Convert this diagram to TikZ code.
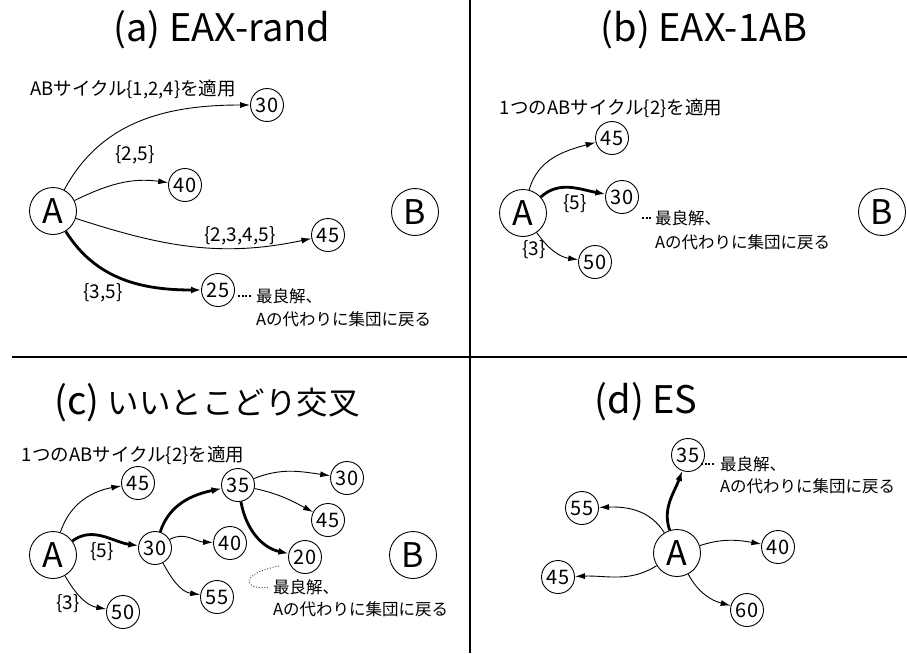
\documentclass[tikz,border=0pt]{standalone}
\usepackage{fontspec}
\setmainfont{Noto Sans CJK JP}
\usetikzlibrary{arrows.meta}
\begin{document}
\begin{tikzpicture}[x=1pt,y=-1pt,
 big/.style={circle,draw,line width=0.9pt,minimum size=47pt,inner sep=0pt,font=\fontsize{34}{34}\selectfont},
 sm/.style={circle,draw,line width=0.9pt,minimum size=33pt,inner sep=0pt,font=\fontsize{20}{20}\selectfont},
 ttl/.style={font=\fontsize{38}{38}\selectfont,inner sep=0pt},
 lbl/.style={font=\fontsize{18.5}{18.5}\selectfont,inner sep=0pt},
 elbl/.style={font=\fontsize{19}{19}\selectfont,inner sep=0pt},
 note/.style={font=\fontsize{16.5}{16.5}\selectfont,anchor=west,inner sep=0pt},
 e/.style={line width=0.9pt,-{Latex[length=10pt,width=6pt]}},
 eb/.style={line width=2.8pt,-{Latex[length=10pt,width=7pt]}},
 lead/.style={line width=2.4pt,dash pattern=on 2.2pt off 1.4pt},
]
\useasboundingbox (0,0) rectangle (907,653);
% dividers
\draw[line width=1.2pt] (470,0) -- (470,653);
\draw[line width=1.2pt] (12,357) -- (907,357);

% ---------- (a) ----------
\node[ttl] (ta) at (222,30) {(a) EAX-rand};
\node[lbl] (la) at (133,89) {ABサイクル\{1,2,4\}を適用};
\node[big] (aA) at (53,211) {A};
\node[big] (aB) at (415,212) {B};
\node[sm] (a30) at (267,105) {30};
\node[sm] (a40) at (185,185) {40};
\node[sm] (a45) at (328,235) {45};
\node[sm] (a25) at (218,290) {25};
\draw[e] (aA) to[out=62,in=180] (a30);
\draw[e] (aA) to[out=26,in=172] (a40);
\draw[e] (aA) to[out=-18,in=192] (a45);
\draw[eb] (aA) to[out=-58,in=180] (a25);
\node[elbl] at (135,155) {\{2,5\}};
\node[elbl] at (240,236) {\{2,3,4,5\}};
\node[elbl] at (103,293) {\{3,5\}};
\node[note] (na1) at (256,296) {最良解、};
\node[note] (na2) at (256,319) {Aの代わりに集団に戻る};
\coordinate (ca) at ([xshift=3pt]a25.east);
\draw[lead] (ca |- na1.west) -- ([xshift=-4pt]na1.west);

% ---------- (b) ----------
\node[ttl] (tb) at (704,30) {(b) EAX-1AB};
\node[lbl] (lb) at (611,108) {1つのABサイクル\{2\}を適用};
\node[big] (bA) at (523,213) {A};
\node[big] (bB) at (882,212) {B};
\node[sm] (b45) at (612,138) {45};
\node[sm] (b30) at (622,197) {30};
\node[sm] (b50) at (595,262) {50};
\draw[e] (bA) to[out=75,in=195] (b45);
\draw[eb] (bA) to[out=42,in=170] (b30);
\draw[e] (bA) to[out=-55,in=172] (b50);
\node[elbl] at (575,204) {\{5\}};
\node[elbl] at (534,250) {\{3\}};
\node[note] (nb1) at (655,218) {最良解、};
\node[note] (nb2) at (655,242) {Aの代わりに集団に戻る};
\coordinate (cb) at ([xshift=3pt]b30.east);
\draw[lead] (cb |- nb1.west) -- ([xshift=-3pt]nb1.west);

% ---------- (c) ----------
\node[ttl] (tc) at (207,403) {(c) {\fontsize{31.5}{31.5}\selectfont いいとこどり交叉}};
\node[lbl] (lc) at (133,455) {1つのABサイクル\{2\}を適用};
\node[big] (cA) at (53,555) {A};
\node[big] (cB) at (413,555) {B};
\node[sm] (c45) at (138,483) {45};
\node[sm] (c30) at (155,548) {30};
\node[sm] (c50) at (123,612) {50};
\node[sm] (c35) at (238,485) {35};
\node[sm] (c40) at (230,543) {40};
\node[sm] (c55) at (217,597) {55};
\node[sm] (c30b) at (347,478) {30};
\node[sm] (c45b) at (328,520) {45};
\node[sm] (c20) at (305,557) {20};
\draw[e] (cA) to[out=72,in=190] (c45);
\draw[eb] (cA) to[out=36,in=172] (c30);
\draw[e] (cA) to[out=-60,in=170] (c50);
\draw[eb] (c30) to[out=72,in=192] (c35);
\draw[e] (c30) to[out=30,in=178] (c40);
\draw[e] (c30) to[out=-62,in=172] (c55);
\draw[e] (c35) to[out=22,in=172] (c30b);
\draw[e] (c35) to[out=-12,in=152] (c45b);
\draw[eb] (c35) to[out=-80,in=168] (c20);
\node[elbl] at (102,552) {\{5\}};
\node[elbl] at (68,604) {\{3\}};
\node[note] (nc1) at (273,587) {最良解、};
\node[note] (nc2) at (273,609) {Aの代わりに集団に戻る};
\coordinate (cc1) at (279,566);
\draw[line width=0.8pt,dotted] (cc1) .. controls (238,574) and (243,591) .. ([xshift=-3pt]nc1.west);

% ---------- (d) ----------
\node[ttl] (td) at (646,402) {(d) ES};
\node[big] (dA) at (677,553) {A};
\node[sm] (d35) at (688,455) {35};
\node[sm] (d55) at (582,508) {55};
\node[sm] (d45) at (558,577) {45};
\node[sm] (d40) at (778,547) {40};
\node[sm] (d60) at (747,610) {60};
\draw[eb] (dA) to[out=108,in=250] (d35);
\draw[e] (dA) to[out=122,in=2] (d55);
\draw[e] (dA) to[out=-148,in=2] (d45);
\draw[e] (dA) to[out=18,in=170] (d40);
\draw[e] (dA) to[out=-62,in=165] (d60);
\node[note] (nd1) at (720,464) {最良解、};
\node[note] (nd2) at (720,486) {Aの代わりに集団に戻る};
\coordinate (cd) at ([xshift=1pt]d35.south east);
\draw[lead] (cd |- nd1.west) -- ([xshift=-5pt]nd1.west);
\end{tikzpicture}
\end{document}
